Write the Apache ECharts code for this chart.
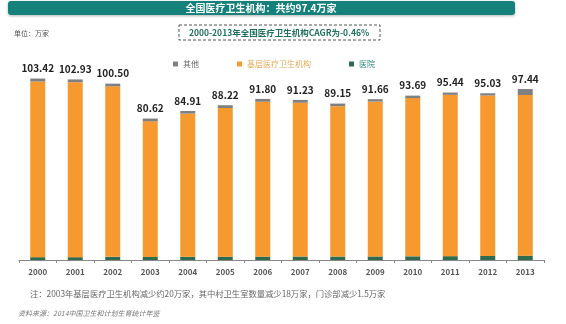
<!DOCTYPE html>
<html><head><meta charset="utf-8">
<script src="https://cdn.jsdelivr.net/npm/echarts@6/dist/echarts.min.js"></script>
<style>html,body{margin:0;padding:0;background:#fff}#c{width:566px;height:324px}</style>
</head><body><div id="c"></div>
<script>
var years = ['2000','2001','2002','2003','2004','2005','2006','2007','2008','2009','2010','2011','2012','2013'];
var totals = [103.42,102.93,100.50,80.62,84.91,88.22,91.80,91.23,89.15,91.66,93.69,95.44,95.03,97.44];
var hospital = [1.63,1.62,1.79,1.78,1.84,1.87,1.92,1.99,1.97,2.03,2.09,2.20,2.32,2.47];
var grassroots = [100.09,99.71,97.21,77.24,81.57,84.75,88.28,87.64,85.68,88.23,90.20,91.94,91.41,91.57];
var other = [1.70,1.60,1.50,1.60,1.50,1.60,1.60,1.60,1.50,1.40,1.40,1.30,1.30,3.40];
var seriesNames = ['其他','基层医疗卫生机构','医院'];
var titleText = '全国医疗卫生机构：共约97.4万家';
var cagrText = '2000-2013年全国医疗卫生机构CAGR为-0.46%';
var unitText = '单位：万家';
var noteText = '注：2003年基层医疗卫生机构减少约20万家，其中村卫生室数量减少18万家，门诊部减少1.5万家';
var sourceText = '资料来源：2014中国卫生和计划生育统计年鉴';

var font = '"Noto Sans CJK SC", "Noto Sans", sans-serif';
var chart = echarts.init(document.getElementById('c'));
chart.setOption({
  animation: false,
  textStyle: {fontFamily: font},
  grid: {left: 19, right: 22, top: 67, bottom: 64},
  legend: {
    top: 55, left: 168, itemWidth: 5, itemHeight: 5, itemGap: 38, icon: 'rect',
    textStyle: {fontSize: 8, fontFamily: font},
    data: [
      {name: '其他', textStyle: {color: '#666'}},
      {name: '基层医疗卫生机构', textStyle: {color: '#e3a95a'}},
      {name: '医院', textStyle: {color: '#2e8a78'}}
    ]
  },
  xAxis: {
    type: 'category', data: years,
    axisLine: {lineStyle: {color: '#888'}},
    axisTick: {show: true, lineStyle: {color: '#888'}, length: 3},
    axisLabel: {color: '#555', fontSize: 8, fontWeight: 'bold', margin: 8, fontFamily: font}
  },
  yAxis: {type: 'value', min: 0, max: 110, show: false, splitLine: {show: false}},
  series: [
    {name: '医院', type: 'bar', stack: 's', data: hospital, barWidth: 15,
     itemStyle: {color: '#2f6b4e'}},
    {name: '基层医疗卫生机构', type: 'bar', stack: 's', data: grassroots, barWidth: 15,
     itemStyle: {color: '#f6992f'}},
    {name: '其他', type: 'bar', stack: 's', data: other, barWidth: 15,
     itemStyle: {color: '#808080'},
     label: {show: true, position: 'top', distance: 5, color: '#222', fontSize: 10, fontWeight: 'bold',
       fontFamily: font,
       formatter: function (p) { return totals[p.dataIndex].toFixed(2); }}}
  ],
  graphic: [
    {type: 'rect', shape: {x: 8, y: 1, width: 507, height: 14, r: 3},
     style: {fill: '#16807a', shadowBlur: 3, shadowColor: 'rgba(0,0,0,0.3)', shadowOffsetY: 1}},
    {type: 'text', x: 261, y: 8, style: {text: titleText, fill: '#fff', fontSize: 10, fontWeight: 'bold',
      fontFamily: font, align: 'center', verticalAlign: 'middle'}},
    {type: 'text', x: 14, y: 33, style: {text: unitText, fill: '#555', fontSize: 7, fontFamily: font,
      verticalAlign: 'middle'}},
    {type: 'rect', shape: {x: 179, y: 25, width: 201, height: 15},
     style: {fill: 'none', stroke: '#555', lineWidth: 1, lineDash: [3, 2]}},
    {type: 'text', x: 279, y: 32.5, style: {text: cagrText, fill: '#1f6f5e', fontSize: 8.5, fontWeight: 'bold',
      fontFamily: font, align: 'center', verticalAlign: 'middle'}},
    {type: 'text', x: 30, y: 294, style: {text: noteText, fill: '#666', fontSize: 8.3, fontFamily: font,
      verticalAlign: 'middle'}},
    {type: 'text', x: 18, y: 313, style: {text: sourceText, fill: '#777', fontSize: 7, fontStyle: 'italic',
      fontFamily: font, verticalAlign: 'middle'}}
  ]
});
</script></body></html>
